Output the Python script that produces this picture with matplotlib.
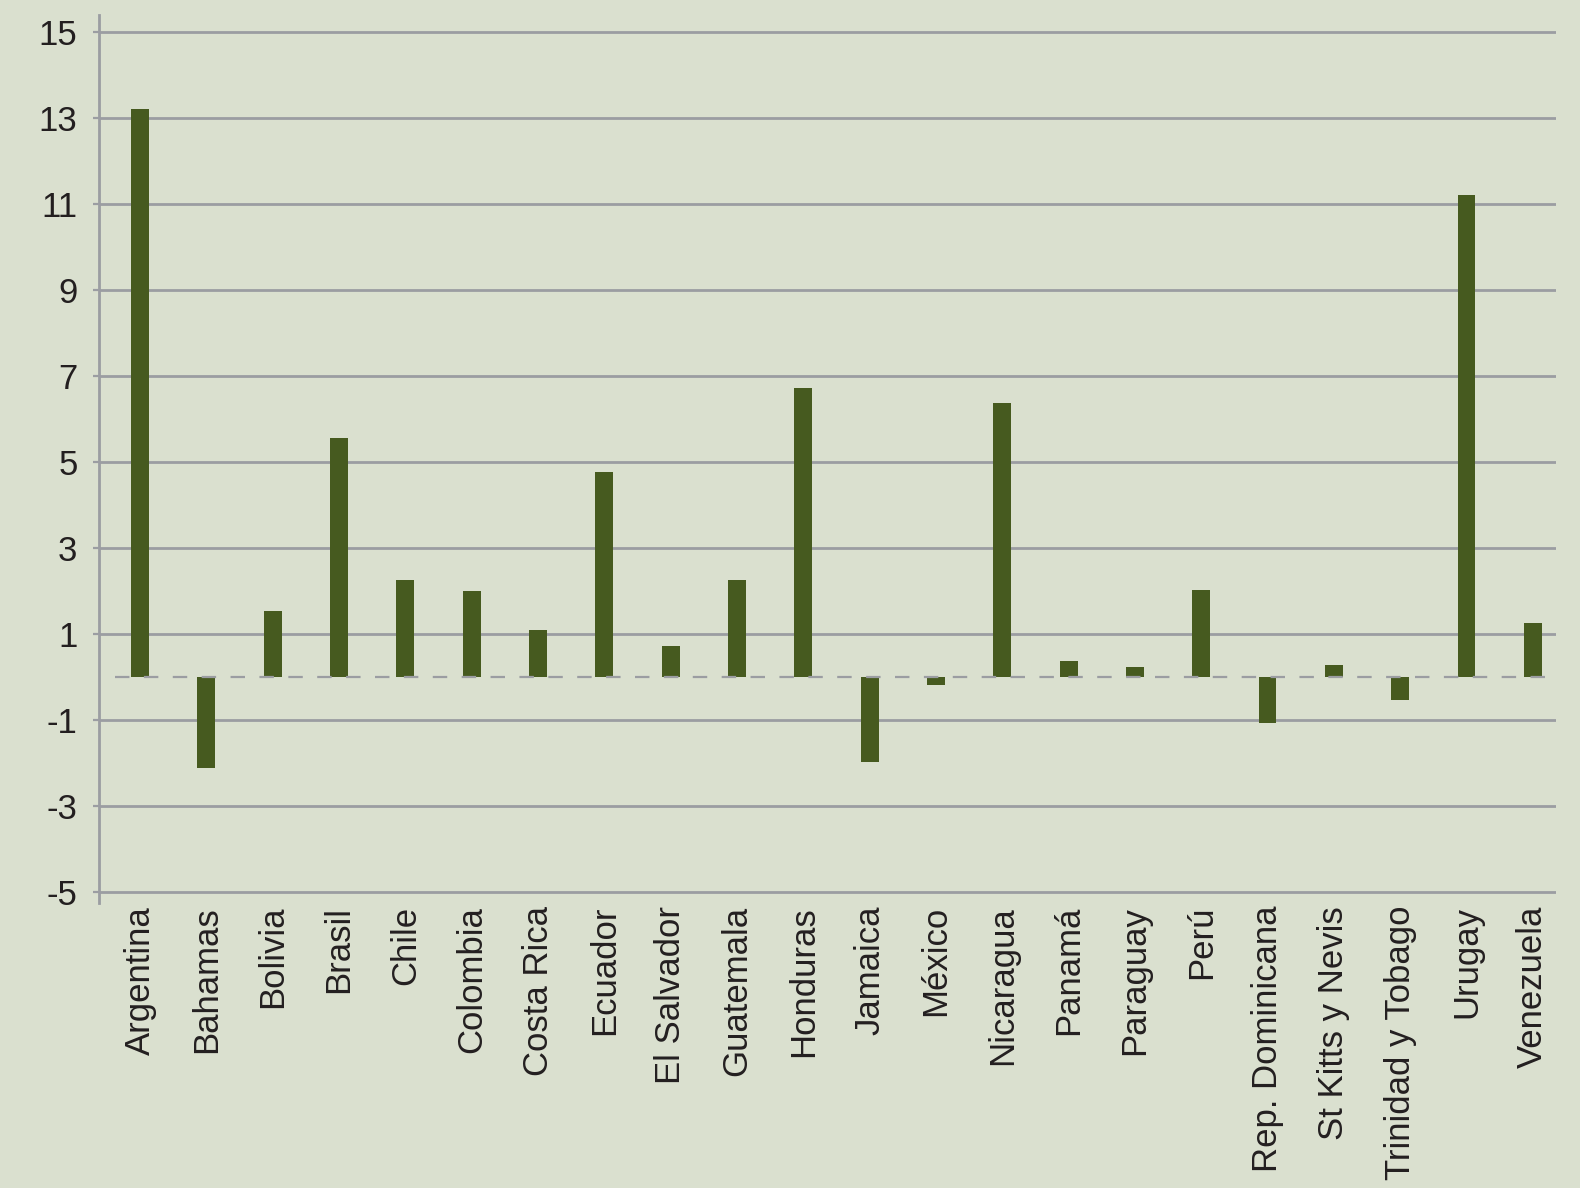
#%% Imports
import matplotlib
matplotlib.use('Agg')
import matplotlib.pyplot as plt

#%% Data
countries = ['Argentina', 'Bahamas', 'Bolivia', 'Brasil', 'Chile', 'Colombia',
             'Costa Rica', 'Ecuador', 'El Salvador', 'Guatemala', 'Honduras',
             'Jamaica', 'México', 'Nicaragua', 'Panamá', 'Paraguay', 'Perú',
             'Rep. Dominicana', 'St Kitts y Nevis', 'Trinidad y Tobago',
             'Urugay', 'Venezuela']
values = [13.2, -2.12, 1.52, 5.56, 2.26, 1.99, 1.08, 4.76, 0.72, 2.26, 6.72,
          -1.97, -0.18, 6.37, 0.36, 0.22, 2.03, -1.07, 0.28, -0.55, 11.2, 1.25]
y_ticks = [-5, -3, -1, 1, 3, 5, 7, 9, 11, 13, 15]

#%% Style
bg = '#dae0cf'
bar_color = '#465a1f'
grid_color = '#9b9da2'
text_color = '#231f20'
plt.rcParams['font.family'] = ['Liberation Sans', 'DejaVu Sans']

#%% Plot
fig = plt.figure(figsize=(15.8, 11.88), dpi=100, facecolor=bg)
ax = fig.add_axes([99 / 1580, 1 - 903 / 1188, (1556 - 99) / 1580, (903 - 15) / 1188])
ax.set_facecolor(bg)

x = list(range(len(countries)))
ax.bar(x, values, width=0.27, color=bar_color, zorder=3)

for t in y_ticks:
    ax.axhline(t, color=grid_color, linewidth=2.0, zorder=1)
ax.hlines(0, -0.38, 21.35, colors=grid_color, linewidth=1.6,
          linestyles=(0, (6.5, 6.5)), zorder=4)

ax.set_xlim(-0.62, 21.35)
ax.set_ylim(-5.26, 15.39)
ax.set_yticks(y_ticks)
ax.set_yticklabels([str(t) for t in y_ticks])
ax.set_xticks(x)
ax.set_xticklabels(countries, rotation=90, ha='center', va='top')

for side in ['top', 'right', 'bottom']:
    ax.spines[side].set_visible(False)
ax.spines['left'].set_color(grid_color)
ax.spines['left'].set_linewidth(2.0)

ax.tick_params(axis='y', length=4.5, width=1.6, color=grid_color, pad=11,
               labelsize=25, labelcolor=text_color)
ax.tick_params(axis='x', length=0, pad=2, labelsize=25, labelcolor=text_color)

fig.savefig('out.png', dpi=100, facecolor=bg)
